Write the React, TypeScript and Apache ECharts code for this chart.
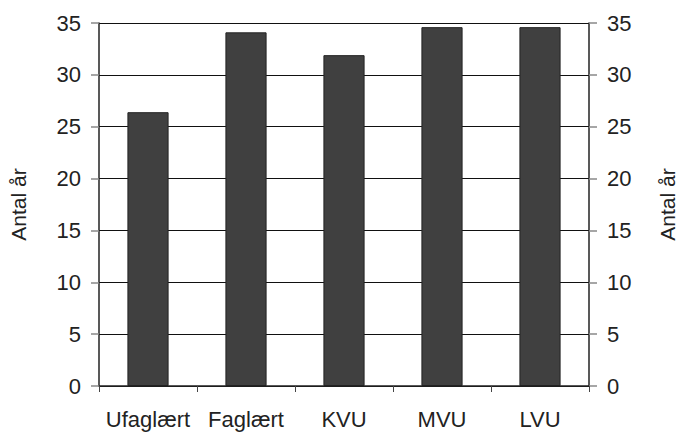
import React, { useEffect, useRef } from "react";
import * as echarts from "echarts";

const categories = ["Ufaglært", "Faglært", "KVU", "MVU", "LVU"];
const values = [26.4, 34.1, 31.9, 34.6, 34.6];
const axisName = "Antal år";
const yMin = 0;
const yMax = 35;
const yInterval = 5;

const font = "'Liberation Sans', Arial, sans-serif";

export default function App() {
  const ref = useRef<HTMLDivElement>(null);
  useEffect(() => {
    if (!ref.current) return;
    document.body.style.margin = "0";
    const chart = echarts.init(ref.current, undefined, { renderer: "svg" });
    const yAxisBase = (pos: "left" | "right", gap: number, showSplit: boolean) => ({
      type: "value",
      position: pos,
      min: yMin,
      max: yMax,
      interval: yInterval,
      name: axisName,
      nameLocation: "middle",
      nameRotate: 90,
      nameGap: gap,
      nameTextStyle: { fontFamily: font, fontSize: 21, color: "#222" },
      axisLine: { show: true, lineStyle: { color: "#222", width: 1.5 } },
      axisTick: { show: true, length: 8, lineStyle: { color: "#888", width: 1.5 } },
      axisLabel: { fontFamily: font, fontSize: 22, color: "#222", margin: 18 },
      splitLine: { show: showSplit, lineStyle: { color: "#111", width: 1 } },
    });
    chart.setOption({
      animation: false,
      backgroundColor: "#fff",
      grid: { left: 91, right: 78, top: 23, bottom: 46, containLabel: false },
      xAxis: {
        type: "category",
        data: categories,
        boundaryGap: true,
        axisLine: { show: true, lineStyle: { color: "#222", width: 1.5 } },
        axisTick: { show: true, length: 6, lineStyle: { color: "#444", width: 1 } },
        axisLabel: { fontFamily: font, fontSize: 22, color: "#222", margin: 22, interval: 0 },
        splitLine: { show: false },
      },
      yAxis: [yAxisBase("left", 70, true), yAxisBase("right", 68, false)],
      series: [
        {
          type: "bar",
          data: values,
          yAxisIndex: 0,
          barCategoryGap: "58%",
          itemStyle: { color: "#404040", borderColor: "#222", borderWidth: 1 },
        },
      ],
    });
    return () => chart.dispose();
  }, []);
  return (
    <div
      ref={ref}
      style={{ width: 686, height: 432, position: "absolute", left: 0, top: 0 }}
    />
  );
}
